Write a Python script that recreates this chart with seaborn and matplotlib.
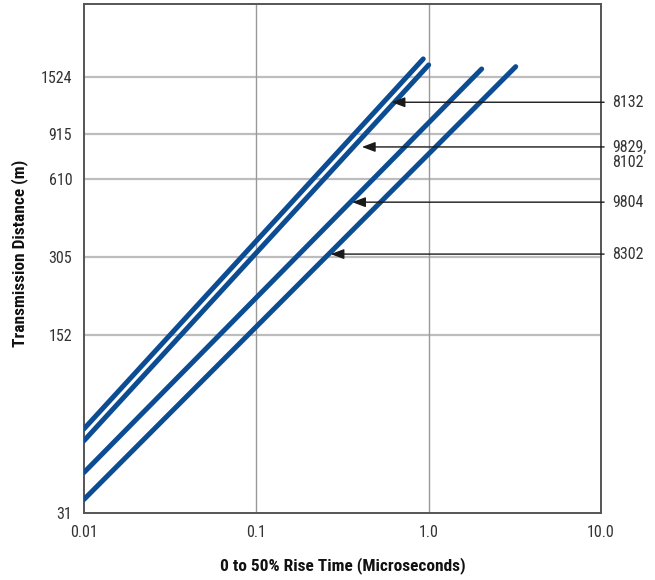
import matplotlib
matplotlib.use("Agg")
import matplotlib.pyplot as plt
import seaborn as sns
import pandas as pd

# cable types and the two ends of each straight line (log-log)
cables = ["8132", "9829,\n8102", "9804", "8302"]
rise_start = [0.01, 0.01, 0.01, 0.01]
rise_end = [0.93, 1.0, 2.03, 3.2]
dist_start = [65.6, 59.0, 44.4, 34.9]
dist_end = [1793, 1699, 1639, 1673]

# where the callout arrows point on each line
tip_rise = [0.61, 0.41, 0.36, 0.27]
tip_dist = [1217, 816, 498, 313]

x_ticks = [0.01, 0.1, 1.0, 10.0]
x_labels = ["0.01", "0.1", "1.0", "10.0"]
y_ticks = [31, 152, 305, 610, 915, 1524]
y_labels = ["31", "152", "305", "610", "915", "1524"]

data = pd.DataFrame({
    "cable": cables * 2,
    "rise": rise_start + rise_end,
    "dist": dist_start + dist_end,
})

blue = "#0c4c92"
text_col = "#333333"

sns.set_theme(style="white")
plt.rcParams["font.family"] = ["Liberation Sans Narrow", "Roboto Condensed",
                               "DejaVu Sans"]
plt.rcParams["font.stretch"] = "condensed"

fig = plt.figure(figsize=(6.55, 5.8), dpi=100)
ax = fig.add_axes([84 / 655, 1 - 513 / 580, 517 / 655, 509 / 580])

sns.lineplot(data=data, x="rise", y="dist", hue="cable",
             palette={c: blue for c in cables}, legend=False,
             linewidth=3.6, solid_capstyle="round", ax=ax, zorder=3)

ax.set_xscale("log")
ax.set_yscale("log")
ax.set_xlim(0.01, 10)
ax.set_ylim(30.9, 2930)

ax.set_xticks(x_ticks)
ax.set_xticklabels(x_labels)
ax.set_yticks(y_ticks)
ax.set_yticklabels(y_labels)
ax.minorticks_off()
ax.tick_params(length=0, labelsize=11.5, labelcolor=text_col)
ax.tick_params(axis="x", pad=8.5)
ax.tick_params(axis="y", pad=8.5)

for y in y_ticks[1:]:
    ax.axhline(y, color="#bdbdbd", lw=1.6, zorder=1)
for x in x_ticks[1:3]:
    ax.axvline(x, color="#999999", lw=1.0, zorder=1)

for s in ax.spines.values():
    s.set_color("#555555")
    s.set_linewidth(1.4)

ax.set_xlabel("0 to 50% Rise Time (Microseconds)", fontsize=12.5,
              fontweight="bold", color="#111111")
ax.set_ylabel("Transmission Distance (m)", fontsize=12.5,
              fontweight="bold", color="#111111")
ax.xaxis.set_label_coords(0.5, -0.086)
ax.yaxis.set_label_coords(-0.108, 0.511)

trans = ax.get_yaxis_transform()
for name, tx, ty in zip(cables, tip_rise, tip_dist):
    ax.annotate("", xy=(tx, ty), xycoords="data",
                xytext=(1.006, ty), textcoords=trans,
                arrowprops=dict(arrowstyle="-|>,head_length=0.8,head_width=0.3",
                                color="#1a1a1a", lw=1.0, shrinkA=0, shrinkB=0,
                                mutation_scale=10),
                zorder=4)
    # two-line label: keep its first line level with the arrow
    shift = -6 if "\n" in name else 0
    ax.annotate(name, xy=(1.021, ty), xycoords=trans,
                xytext=(0, shift), textcoords="offset points",
                ha="left", va="center", fontsize=11.5, color=text_col,
                linespacing=1.0, annotation_clip=False)

fig.savefig("out.png", dpi=100)
